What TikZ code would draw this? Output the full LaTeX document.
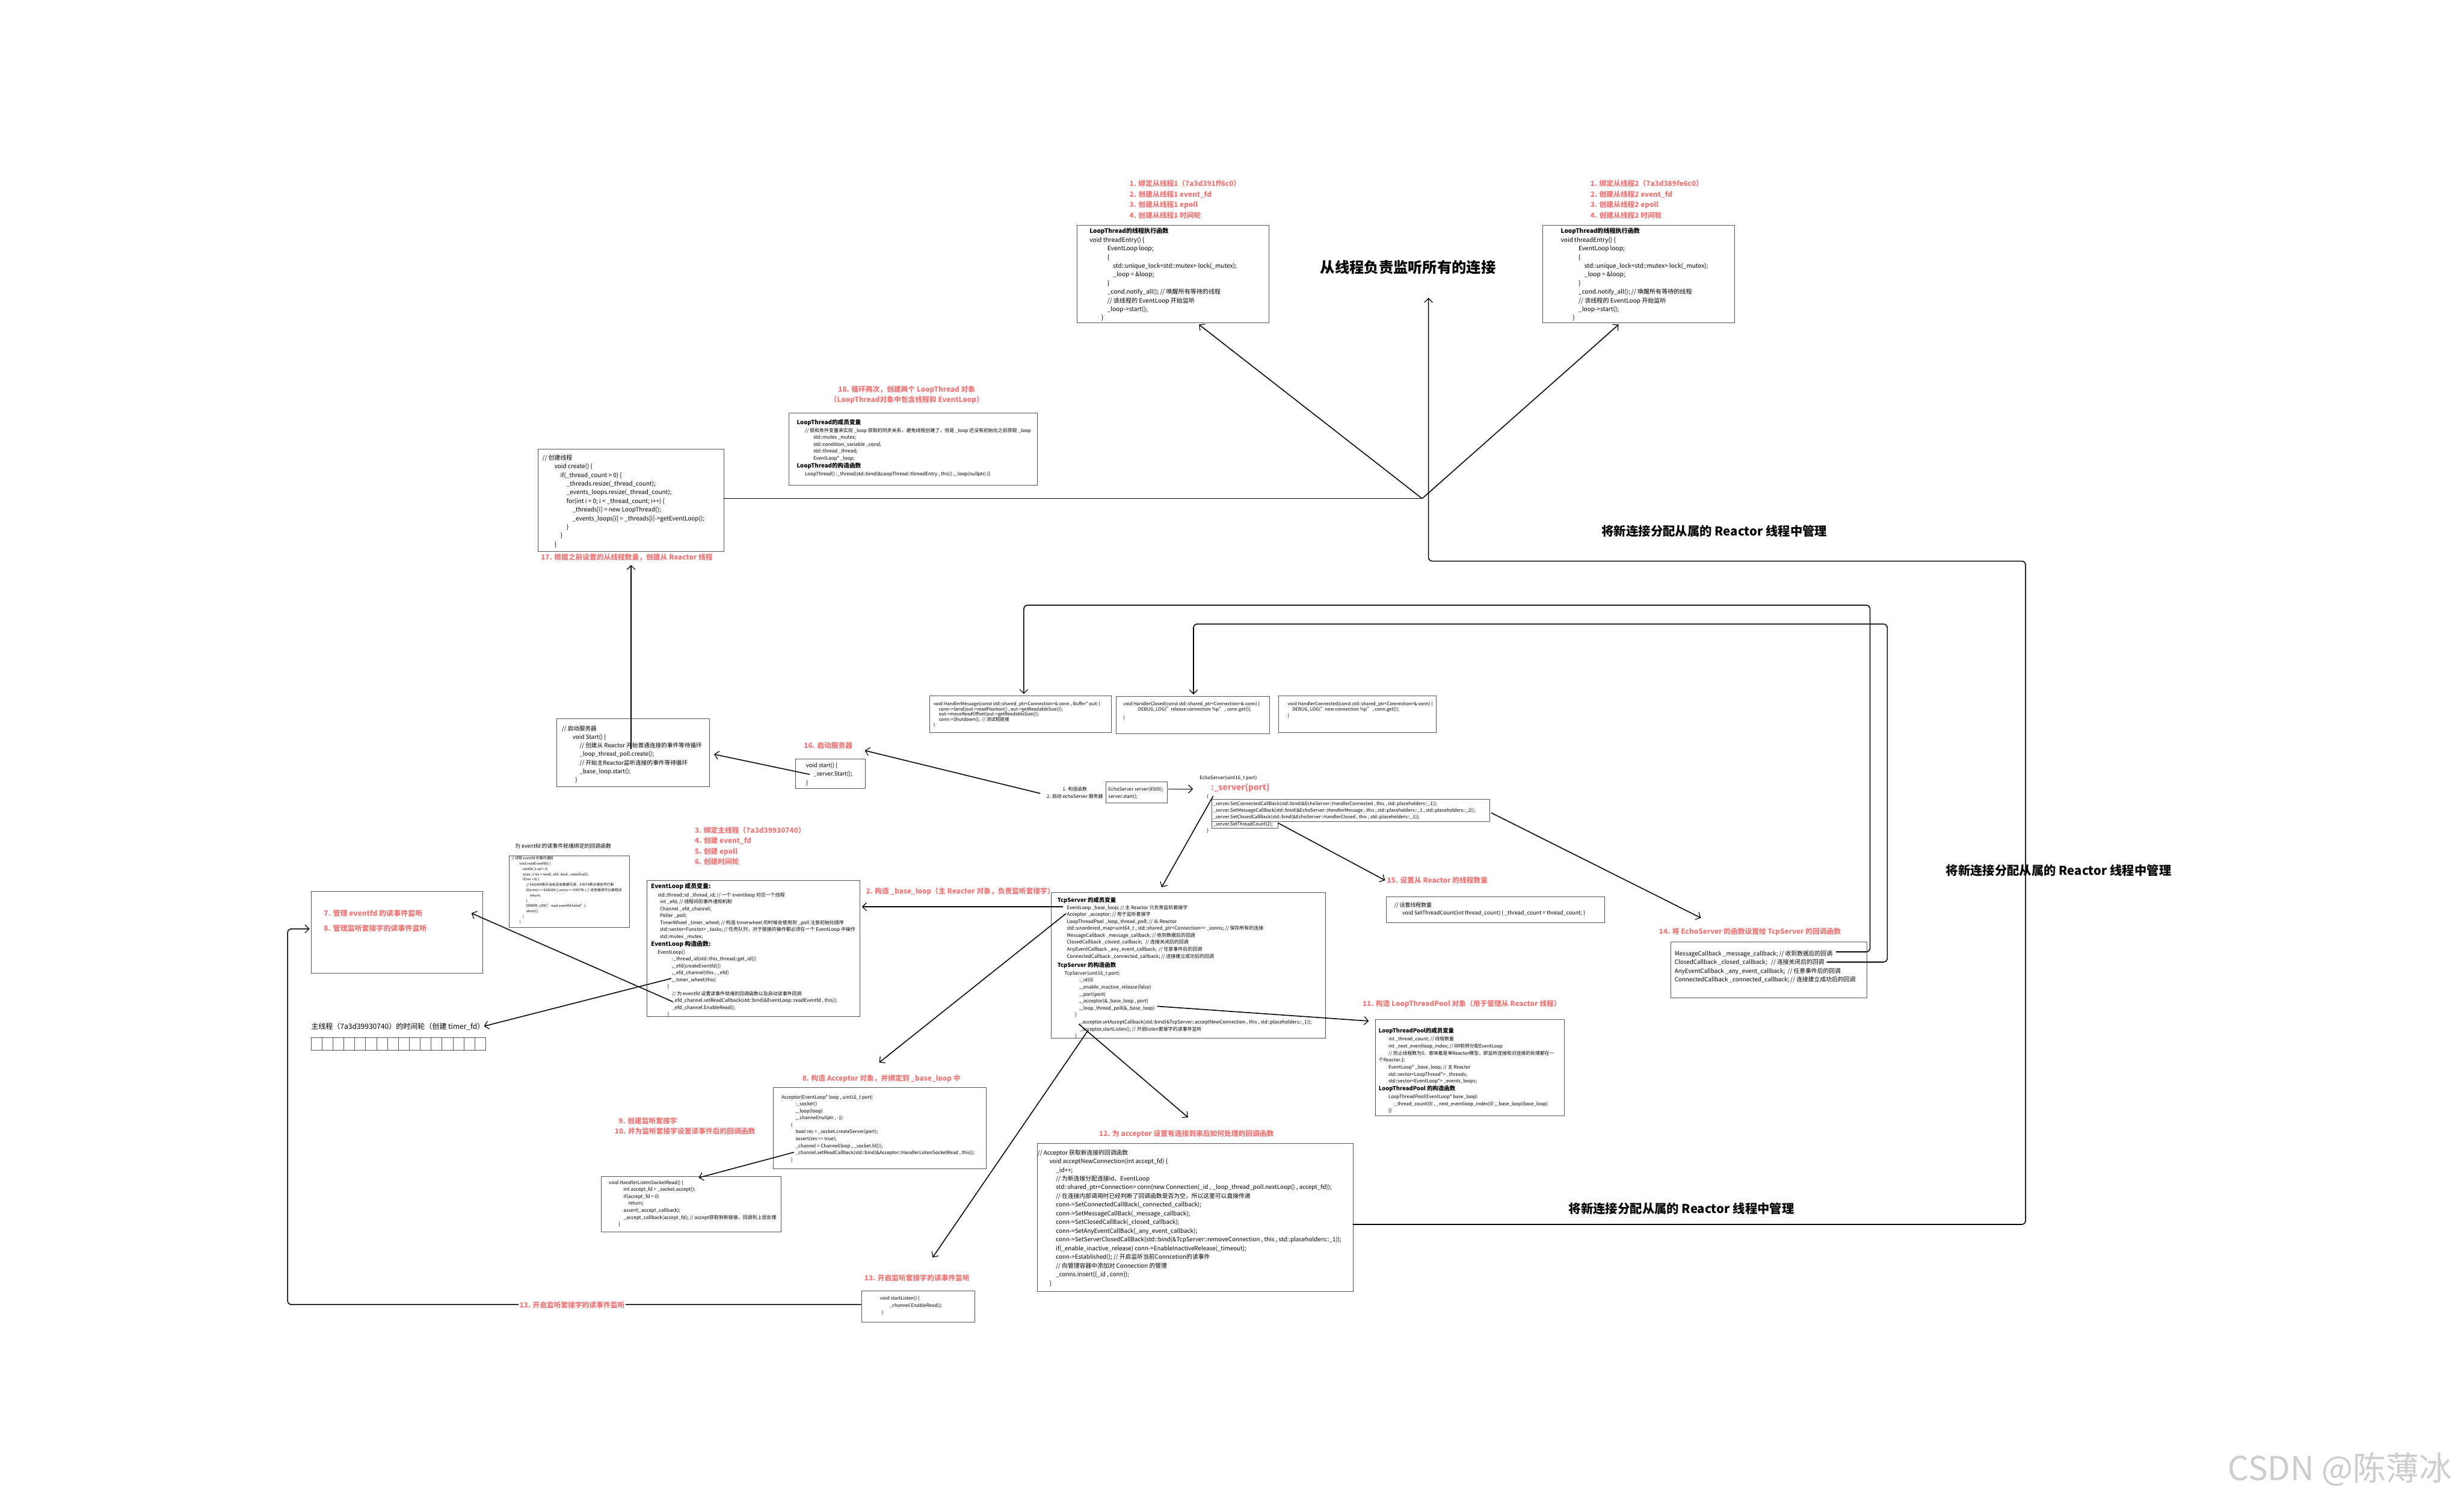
\documentclass[tikz,border=0pt]{standalone}
\usepackage{fontspec}
\setmainfont{Noto Sans CJK SC}
\usetikzlibrary{arrows.meta}
\definecolor{lblred}{RGB}{240,118,118}
\definecolor{boxgray}{RGB}{85,85,85}
\definecolor{wmgray}{RGB}{205,205,205}
\newcommand\fsz[2]{\fontsize{#1mm}{#2mm}\selectfont}
\newcommand\myind[1]{\hspace*{#1mm}}
\begin{document}
\begin{tikzpicture}[x=1mm,y=-1mm,
  panel/.style={draw=boxgray,line width=0.35mm,anchor=north west,inner sep=0pt},
  txt/.style={anchor=north west,inner sep=0pt,align=left},
  lbl/.style={txt,text=lblred,font=\bfseries\fsz{4.5}{6.7}},
  big/.style={inner sep=0pt,font=\bfseries\fsz{7.8}{9}},
  conn/.style={line width=0.6mm,black},
  arr/.style={conn,-{Straight Barb[length=2.6mm,width=5.2mm,line width=0.45mm]}},
  loopline/.style={conn,rounded corners=2.5mm,-{Straight Barb[length=2.6mm,width=5.2mm,line width=0.45mm]}}]
\useasboundingbox (0,0) rectangle (1568,954);
\fill[white] (0,0) rectangle (1568,954);

% ---------------- top: LoopThread thread functions ----------------
\node[lbl] (r1) at (718.7,114.6) {1. 绑定从线程1（7a3d391ff6c0）\\2. 创建从线程1 event\_fd\\3. 创建从线程1 epoll\\4. 创建从线程1 时间轮};
\node[panel,minimum width=122.1mm,minimum height=61.8mm] (b1) at (685.2,143.3) {};
\node[txt,font=\fsz{3.85}{5.51}] (t1) at (693.3,145.1) {{\bfseries LoopThread的线程执行函数}\\
void threadEntry() \{\\
\myind{11.3}EventLoop loop;\\
\myind{11.3}\{\\
\myind{15}std::unique\_lock<std::mutex> lock(\_mutex);\\
\myind{15}\_loop = \&loop;\\
\myind{11.3}\}\\
\myind{11.3}\_cond.notify\_all(); // 唤醒所有等待的线程\\
\myind{11.3}// 该线程的 EventLoop 开始监听\\
\myind{11.3}\_loop->start();\\
\myind{7.5}\}};

\node[lbl] (r2) at (1012,114.6) {1. 绑定从线程2（7a3d389fe6c0）\\2. 创建从线程2 event\_fd\\3. 创建从线程2 epoll\\4. 创建从线程2 时间轮};
\node[panel,minimum width=122mm,minimum height=61.8mm] (b2) at (981.5,143.3) {};
\node[txt,font=\fsz{3.85}{5.51}] (t2) at (993.2,145.1) {{\bfseries LoopThread的线程执行函数}\\
void threadEntry() \{\\
\myind{11.3}EventLoop loop;\\
\myind{11.3}\{\\
\myind{15}std::unique\_lock<std::mutex> lock(\_mutex);\\
\myind{15}\_loop = \&loop;\\
\myind{11.3}\}\\
\myind{11.3}\_cond.notify\_all(); // 唤醒所有等待的线程\\
\myind{11.3}// 该线程的 EventLoop 开始监听\\
\myind{11.3}\_loop->start();\\
\myind{7.5}\}};

\node[inner sep=0pt,font=\bfseries\fsz{9.3}{10}] (title) at (896,170) {从线程负责监听所有的连接};
\node[big] (g1) at (1091,338) {将新连接分配从属的 Reactor 线程中管理};
\node[big] (g2) at (1310,554) {将新连接分配从属的 Reactor 线程中管理};
\node[big] (g3) at (1070,769) {将新连接分配从属的 Reactor 线程中管理};

% ---------------- LoopThread members ----------------
\node[lbl,anchor=north,align=center] (r18) at (577,245.45) {18. 循环两次，创建两个 LoopThread 对象\\（LoopThread对象中包含线程和 EventLoop）};
\node[panel,minimum width=158mm,minimum height=45.7mm] (b3) at (502,262.7) {};
\node[txt,font=\fsz{3.05}{4.43}] (t3) at (507,266.6) {{\bfseries\fsz{3.7}{4.43}LoopThread的成员变量}\\[0.6mm]
\myind{5.2}// 锁和条件变量来实现 \_loop 获取的同步关系，避免线程创建了，但是 \_loop 还没有初始化之前获取 \_loop\\
\myind{10.5}std::mutex \_mutex;\\
\myind{10.5}std::condition\_variable \_cond;\\
\myind{10.5}std::thread \_thread;\\
\myind{10.5}EventLoop* \_loop;\\[0.6mm]
{\bfseries\fsz{3.7}{4.43}LoopThread的构造函数}\\[0.6mm]
\myind{5.2}LoopThread() :\_thread(std::bind(\&LoopThread::threadEntry , this)) ,\_loop(nullptr) \{\}};

% ---------------- create ----------------
\node[panel,minimum width=118.1mm,minimum height=65.2mm] (bc) at (342.4,285.5) {};
\node[txt,font=\fsz{3.8}{5.51}] (tc) at (345.1,289.3) {// 创建线程\\
\myind{7.7}void create() \{\\
\myind{11.5}if(\_thread\_count > 0) \{\\
\myind{15.4}\_threads.resize(\_thread\_count);\\
\myind{15.4}\_events\_loops.resize(\_thread\_count);\\
\myind{15.4}for(int i = 0; i < \_thread\_count; i++) \{\\
\myind{19.1}\_threads[i] = new LoopThread();\\
\myind{19.1}\_events\_loops[i] = \_threads[i]->getEventLoop();\\
\myind{15.4}\}\\
\myind{11.5}\}\\
\myind{7.7}\}};
\node[lbl] (r17) at (344.2,352.15) {17. 根据之前设置的从线程数量，创建从 Reactor 线程};

% ---------------- Echo handlers ----------------
\node[panel,minimum width=115.8mm,minimum height=23mm] (bhm) at (591.4,442.7) {};
\node[txt,font=\fsz{2.9}{3.33}] (thm) at (594,446.35) {void HandlerMessage(const std::shared\_ptr<Connection>\& conn , Buffer* out) \{\\
\myind{3.4}conn->Send(out->readPosition() , out->getReadableSize());\\
\myind{3.4}out->moveReadOffset(out->getReadableSize());\\
\myind{3.4}conn->Shutdown();~~// 测试短链接\\
\}};
\node[panel,minimum width=97.7mm,minimum height=23.5mm] (bhc) at (710,443) {};
\node[txt,font=\fsz{2.9}{3.4}] (thc) at (714.7,446.45) {void HandlerClosed(const std::shared\_ptr<Connection>\& conn) \{\\
\myind{9.5}DEBUG\_LOG("release connection \%p" , conn.get());\\[1.8mm]
\}};
\node[panel,minimum width=100.5mm,minimum height=23mm] (bhn) at (813.4,442.7) {};
\node[txt,font=\fsz{2.9}{3.4}] (thn) at (819.4,446.45) {void HandlerConnected(const std::shared\_ptr<Connection>\& conn) \{\\
\myind{2.9}DEBUG\_LOG("new connection \%p" , conn.get());\\[0.8mm]
\}};

% ---------------- Start ----------------
\node[panel,minimum width=97.2mm,minimum height=43.4mm] (bst) at (354.1,457) {};
\node[txt,font=\fsz{3.7}{5.45}] (tst) at (357.4,461.65) {// 启动服务器\\
\myind{7}void Start() \{\\
\myind{11.4}// 创建从 Reactor 开始普通连接的事件等待循环\\
\myind{11.4}\_loop\_thread\_poll.create();\\
\myind{11.4}// 开始主Reactor监听连接的事件等待循环\\
\myind{11.4}\_base\_loop.start();\\
\myind{8.6}\}};
\node[lbl] (r16) at (511.5,472.15) {16. 启动服务器};
\node[panel,minimum width=44.2mm,minimum height=19mm] (bss) at (506.1,482.6) {};
\node[txt,font=\fsz{3.6}{5.55}] (tss) at (512.8,485.2) {void start() \{\\
\myind{4.8}\_server.Start();\\
\}};

% ---------------- EchoServer ----------------
\node[inner sep=0pt,anchor=north,align=center,font=\fsz{3}{4.4}] (lmain) at (684,500.7) {1. 构造函数\\2. 启动 echoServer 服务器};
\node[panel,minimum width=39.1mm,minimum height=13.3mm] (becho) at (703.5,497.2) {};
\node[txt,font=\fsz{3}{4.4}] (techo) at (705.3,500.7) {EchoServer server(8500);\\server.start();};
\node[txt,font=\fsz{3}{4.4}] (tector) at (763.4,493.3) {EchoServer(uint16\_t port)};
\node[txt,text=lblred,font=\bfseries\fsz{5.2}{6}] (tsrv) at (770.6,498.4) {:\_server(port)};
\node[txt,font=\fsz{3}{4.4}] (tob) at (768,505.5) {\{};
\node[panel,minimum width=177.2mm,minimum height=14.1mm] (bcb) at (770.8,508.3) {};
\node[txt,font=\fsz{2.95}{4.35}] (tcb) at (772,509.8) {\_server.SetConnectedCallBack(std::bind(\&EchoServer::HandlerConnected , this , std::placeholders::\_1));\\
\_server.SetMessageCallBack(std::bind(\&EchoServer::HandlerMessage , this , std::placeholders::\_1 , std::placeholders::\_2));\\
\_server.SetClosedCallBack(std::bind(\&EchoServer::HandlerClosed , this , std::placeholders::\_1));};
\node[panel,minimum width=42.1mm,minimum height=4.4mm] (btc) at (770.8,522.4) {};
\node[txt,font=\fsz{2.95}{4.35}] (ttc) at (772,523.0) {\_server.SetThreadCount(2);};
\node[txt,font=\fsz{3}{4.4}] (tcb2) at (768,527) {\}};

% ---------------- SetThreadCount / callbacks ----------------
\node[lbl] (r15) at (882.5,557.85) {15. 设置从 Reactor 的线程数量};
\node[panel,minimum width=139mm,minimum height=16.8mm] (bstc) at (881.9,570.2) {};
\node[txt,font=\fsz{3.4}{5}] (tstc) at (887.2,574.2) {// 设置线程数量\\
\myind{5.1}void SetThreadCount(int thread\_count) \{ \_thread\_count = thread\_count; \}};
\node[lbl] (r14) at (1055.7,590.35) {14. 将 EchoServer 的函数设置给 TcpServer 的回调函数};
\node[panel,minimum width=125mm,minimum height=35.8mm] (bcbm) at (1063,599) {};
\node[txt,font=\fsz{3.75}{5.55}] (tcbm) at (1065.6,604.8) {MessageCallback \_message\_callback; // 收到数据后的回调\\
ClosedCallback \_closed\_callback;~~~// 连接关闭后的回调\\
AnyEventCallback \_any\_event\_callback;~~// 任意事件后的回调\\
ConnectedCallback \_connected\_callback; // 连接建立成功后的回调};

% ---------------- LoopThreadPool ----------------
\node[lbl] (r11) at (867,636.35) {11. 构造 LoopThreadPool 对象（用于管理从 Reactor 线程）};
\node[panel,minimum width=120.1mm,minimum height=61.4mm] (bltp) at (875.1,648.5) {};
\node[txt,font=\fsz{3.0}{4.45}] (tltp) at (877.3,654.0) {{\bfseries\fsz{3.6}{4.45}LoopThreadPool的成员变量}\\[0.55mm]
\myind{6.2}int \_thread\_count; // 线程数量\\
\myind{6.2}int \_next\_eventloop\_index; // RR轮转分配EventLoop\\
\myind{6.2}// 防止线程数为0，意味着是单Reactor模型，即监听连接和对连接的处理都在一\\
个Reactor上\\
\myind{6.2}EventLoop* \_base\_loop; // 主 Reactor\\
\myind{6.2}std::vector<LoopThread*> \_threads;\\
\myind{6.2}std::vector<EventLoop*> \_events\_loops;\\[0.5mm]
{\bfseries\fsz{3.6}{4.45}LoopThreadPool 的构造函数}\\[0.55mm]
\myind{6.2}LoopThreadPool(EventLoop* base\_loop)\\
\myind{9.3}:\_thread\_count(0) , \_next\_eventloop\_index(0) ,\_base\_loop(base\_loop)\\
\myind{6.2}\{\}};

% ---------------- TcpServer ----------------
\node[panel,minimum width=174.4mm,minimum height=92.6mm] (btcp) at (668.8,567.6) {};
\node[txt,font=\fsz{3.05}{4.43}] (ttcp) at (672.9,570.8) {{\bfseries\fsz{3.6}{4.43}TcpServer 的成员变量}\\
\myind{6}EventLoop \_base\_loop; // 主 Reactor 只负责监听套接字\\
\myind{6}Acceptor \_acceptor; // 用于监听套接字\\
\myind{6}LoopThreadPool \_loop\_thread\_poll; // 从 Reactor\\
\myind{6}std::unordered\_map<uint64\_t , std::shared\_ptr<Connection>\kern0pt> \_conns; // 保存所有的连接\\
\myind{6}MessageCallback \_message\_callback; // 收到数据后的回调\\
\myind{6}ClosedCallback \_closed\_callback;~~~// 连接关闭后的回调\\
\myind{6}AnyEventCallback \_any\_event\_callback;~~// 任意事件后的回调\\
\myind{6}ConnectedCallback \_connected\_callback;~// 连接建立成功后的回调\\[1.5mm]
{\bfseries\fsz{3.6}{4.43}TcpServer 的构造函数}\\[0.5mm]
\myind{4.5}TcpServer(uint16\_t port)\\
\myind{13.9}:\_id(0)\\
\myind{13.9},\_enable\_inactive\_release(false)\\
\myind{13.9},\_port(port)\\
\myind{13.9},\_acceptor(\&\_base\_loop , port)\\
\myind{13.9},\_loop\_thread\_poll(\&\_base\_loop)\\
\myind{11.2}\{\\
\myind{14.1}\_acceptor.setAcceptCallback(std::bind(\&TcpServer::acceptNewConnection , this , std::placeholders::\_1));\\
\myind{14.1}\_acceptor.startListen(); // 开启listen套接字的读事件监听\\
\myind{11.2}\}};

% ---------------- EventLoop ----------------
\node[lbl] (r3) at (442.1,525.95) {3. 绑定主线程（7a3d39930740）\\4. 创建 event\_fd\\5. 创建 epoll\\6. 创建时间轮};
\node[lbl] (r2b) at (551,564.75) {2. 构造 \_base\_loop（主 Reactor 对象，负责监听套接字）};
\node[panel,minimum width=135.4mm,minimum height=86.6mm] (bev) at (411.6,559.9) {};
\node[txt,font=\fsz{3.05}{4.41}] (tev) at (414.2,562.0) {{\bfseries\fsz{3.8}{4.41}EventLoop 成员变量:}\\[0.6mm]
\myind{4.3}std::thread::id \_thread\_id; // 一个 eventloop 对应一个线程\\
\myind{5.7}int \_efd; // 线程间的事件通知机制\\
\myind{5.7}Channel \_efd\_channel;\\
\myind{5.7}Poller \_poll;\\
\myind{5.7}TimerWheel \_timer\_wheel; // 构造 timerwheel 的时候会使用到 \_poll 注意初始化顺序\\
\myind{5.7}std::vector<Functor> \_tasks; // 任务队列，对于链接的操作都必须在一个 EventLoop 中操作\\
\myind{5.7}std::mutex \_mutex;\\[0.6mm]
{\bfseries\fsz{3.8}{4.41}EventLoop 构造函数:}\\[0.5mm]
\myind{4.3}EventLoop()\\
\myind{13.5}:\_thread\_id(std::this\_thread::get\_id())\\
\myind{13.5},\_efd(createEventfd())\\
\myind{13.5},\_efd\_channel(this , \_efd)\\
\myind{13.5},\_timer\_wheel(this)\\
\myind{10.5}\{\\
\myind{13.5}// 为 eventfd 设置读事件就绪的回调函数以及启动读事件回调\\
\myind{13.5}\_efd\_channel.setReadCallback(std::bind(\&EventLoop::readEventfd , this));\\
\myind{13.5}\_efd\_channel.EnableRead();\\
\myind{10.5}\}};

\node[txt,font=\fsz{3.4}{4}] (tre) at (327.7,536.5) {为 eventfd 的读事件就绪绑定的回调函数};
\node[panel,minimum width=76.8mm,minimum height=45.6mm] (bre) at (323.7,544.3) {};
\node[txt,font=\fsz{2.2}{3.37}] (tread) at (325.6,545.0) {// 读取 eventfd 的事件通知\\
\myind{4.8}void readEventfd() \{\\
\myind{7}uint64\_t val = 0;\\
\myind{7}ssize\_t res = read(\_efd , \&val , sizeof(val));\\
\myind{7}if(res < 0) \{\\
\myind{9.2}// EAGAIN表示当前没有数据可读，EINTR表示被信号打断\\
\myind{9.2}if(errno == EAGAIN || errno == EINTR) \{ // 这些错误可以被原谅\\
\myind{11.5}return;\\
\myind{9.2}\}\\
\myind{9.2}ERROR\_LOG("read eventfd failed");\\
\myind{9.2}abort();\\
\myind{7}\}\\
\myind{4.8}\}};

% ---------------- left: 7/8 and timer ----------------
\node[panel,minimum width=109mm,minimum height=52mm] (b78) at (198,567) {};
\node[lbl,font=\bfseries\fsz{4.6}{9.5}] (r78) at (206,578.7) {7. 管理 eventfd 的读事件监听\\8. 管理监听套接字的读事件监听};
\node[txt,font=\fsz{4.6}{5}] (ttw) at (198,650.7) {主线程（7a3d39930740）的时间轮（创建 timer\_fd）};
\node[panel,minimum width=111mm,minimum height=8mm] (btw) at (198,660) {};
\foreach \i in {1,...,15} \draw[boxgray,line width=0.3mm] (198+\i*6.94,660) -- (198+\i*6.94,668);

% ---------------- Acceptor ----------------
\node[lbl] (r8) at (510.5,683.75) {8. 构造 Acceptor 对象，并绑定到 \_base\_loop 中};
\node[panel,minimum width=135.5mm,minimum height=51.7mm] (bacc) at (492,691.6) {};
\node[txt,font=\fsz{3.0}{4.43}] (tacc) at (497.2,696.5) {Acceptor(EventLoop* loop , uint16\_t port)\\
\myind{9.1}:\_socket()\\
\myind{9.1},\_loop(loop)\\
\myind{9.1},\_channel(nullptr , -1)\\
\myind{6.1}\{\\
\myind{9.1}bool res = \_socket.createServer(port);\\
\myind{9.1}assert(res == true);\\
\myind{9.1}\_channel = Channel(loop , \_socket.fd());\\
\myind{9.1}\_channel.setReadCallback(std::bind(\&Acceptor::HandlerListenSocketRead , this));\\
\myind{6.1}\}};
\node[lbl] (r910) at (391.1,710.75) {\myind{2.5}9. 创建监听套接字\\10. 并为监听套接字设置读事件后的回调函数};
\node[panel,minimum width=114.4mm,minimum height=35.3mm] (bhl) at (382.5,748.3) {};
\node[txt,font=\fsz{3.05}{4.43}] (thl) at (387.4,750.9) {void HandlerListenSocketRead() \{\\
\myind{9.4}int accept\_fd = \_socket.accept();\\
\myind{9.4}if(accept\_fd < 0)\\
\myind{12.3}return;\\
\myind{9.4}assert(\_accept\_callback);\\
\myind{9.4}\_accept\_callback(accept\_fd); // accept获取到新链接，回调到上层处理\\
\myind{6.2}\}};

% ---------------- acceptNewConnection ----------------
\node[lbl] (r12) at (699.4,718.95) {12. 为 acceptor 设置有连接到来后如何处理的回调函数};
\node[panel,minimum width=201mm,minimum height=94.2mm] (banc) at (659.8,727.4) {};
\node[txt,font=\fsz{3.75}{5.54}] (tanc) at (660.3,731.4) {// Acceptor 获取新连接的回调函数\\
\myind{7.5}void acceptNewConnection(int accept\_fd) \{\\
\myind{11.6}\_id++;\\
\myind{11.6}// 为新连接分配连接id、EventLoop\\
\myind{11.6}std::shared\_ptr<Connection> conn(new Connection(\_id , \_loop\_thread\_poll.nextLoop() , accept\_fd));\\
\myind{11.6}// 在连接内部调用时已经判断了回调函数是否为空，所以这里可以直接传递\\
\myind{11.6}conn->SetConnectedCallBack(\_connected\_callback);\\
\myind{11.6}conn->SetMessageCallBack(\_message\_callback);\\
\myind{11.6}conn->SetClosedCallBack(\_closed\_callback);\\
\myind{11.6}conn->SetAnyEventCallBack(\_any\_event\_callback);\\
\myind{11.6}conn->SetServerClosedCallBack(std::bind(\&TcpServer::removeConnection , this , std::placeholders::\_1));\\
\myind{11.6}if(\_enable\_inactive\_release) conn->EnableInactiveRelease(\_timeout);\\
\myind{11.6}conn->Established(); // 开启监听当前Conncetion的读事件\\
\myind{11.6}// 向管理容器中添加对 Connection 的管理\\
\myind{11.6}\_conns.insert(\{\_id , conn\});\\
\myind{7.5}\}};

% ---------------- startListen ----------------
\node[lbl] (r13a) at (550,810.75) {13. 开启监听套接字的读事件监听};
\node[panel,minimum width=72mm,minimum height=20mm] (bsl) at (548,821) {};
\node[txt,font=\fsz{3.0}{4.6}] (tsl) at (560,824.5) {void startListen() \{\\
\myind{6}\_channel.EnableRead();\\
\myind{1}\}};

\node[inner sep=0pt,text=wmgray,font=\fsz{21}{24}] (wm) at (1489,935) {CSDN @陈薄冰};

% ---------------- connector coordinates ----------------
\coordinate (cR) at (460.5,317.2);
\coordinate (J) at (905,317.2);
\coordinate (b1in) at (763,206.5);
\coordinate (b2in) at (1030,206.5);
\coordinate (ttin) at (909,189.5);
\coordinate (ancR) at (860.8,779);
\coordinate (stUp) at (401.6,476.7);
\coordinate (bcIn) at (401.6,359.5);
\coordinate (ssOut) at (515.2,492.7);
\coordinate (stIn) at (454.4,479.9);
\coordinate (lmOut) at (662,504.8);
\coordinate (ssIn) at (550.3,477.5);
\coordinate (echoR) at (743.5,502);
\coordinate (ctorIn) at (759.2,502);
\coordinate (brOut) at (772,506.5);
\coordinate (tcpIn) at (739.2,564.5);
\coordinate (stcOut) at (813.5,523.7);
\coordinate (r15In) at (881.4,560.1);
\coordinate (msgOut) at (948.9,517.1);
\coordinate (r14In) at (1082.4,584);
\coordinate (mcbOut) at (1168.4,605.6);
\coordinate (hmIn) at (651.5,441.5);
\coordinate (ccbOut) at (1162.4,612.1);
\coordinate (hcIn) at (759.5,441.8);
\coordinate (blOut) at (676.6,576.9);
\coordinate (evIn) at (548.5,576.9);
\coordinate (acOut) at (678.4,581.2);
\coordinate (accIn) at (559.5,676);
\coordinate (ltpOut) at (736.3,640.2);
\coordinate (r11In) at (871,649.6);
\coordinate (saOut) at (686.5,651.5);
\coordinate (r12In) at (756,710.9);
\coordinate (slOut) at (692.3,655.7);
\coordinate (slIn) at (593.5,800);
\coordinate (rcOut) at (428.1,637.3);
\coordinate (r7In) at (300,581);
\coordinate (twOut) at (427.2,622.5);
\coordinate (twIn) at (308,652.9);
\coordinate (arOut) at (505.3,733.1);
\coordinate (hlIn) at (444.6,749.3);
\coordinate (slL) at (548,830);
\coordinate (b78In) at (197,591);

% ---------------- connectors ----------------
\draw[conn] (cR) -- (J);
\draw[arr] (J) -- (b1in);
\draw[arr] (J) -- (b2in);
\draw[loopline] (ancR) -- (1289,779) -- (1289,357) -- (909,357) -- (ttin);
\draw[arr] (stUp) -- (bcIn);
\draw[arr] (ssOut) -- (stIn);
\draw[arr] (lmOut) -- (ssIn);
\draw[arr] (echoR) -- (ctorIn);
\draw[arr] (brOut) -- (tcpIn);
\draw[arr] (stcOut) -- (r15In);
\draw[arr] (msgOut) -- (r14In);
\draw[loopline] (mcbOut) -- (1190,605.6) -- (1190,385) -- (651.5,385) -- (hmIn);
\draw[loopline] (ccbOut) -- (1201,612.1) -- (1201,397) -- (759.5,397) -- (hcIn);
\draw[arr] (blOut) -- (evIn);
\draw[arr] (acOut) -- (accIn);
\draw[arr] (ltpOut) -- (r11In);
\draw[arr] (saOut) -- (r12In);
\draw[arr] (slOut) -- (slIn);
\draw[arr] (rcOut) -- (r7In);
\draw[arr] (twOut) -- (twIn);
\draw[arr] (arOut) -- (hlIn);
\draw[loopline] (slL) -- (183,830) -- (183,591) -- (b78In);
\node[lbl,fill=white,inner sep=0.5mm] (r13c) at (330,827.6) {13. 开启监听套接字的读事件监听};
\end{tikzpicture}
\end{document}
